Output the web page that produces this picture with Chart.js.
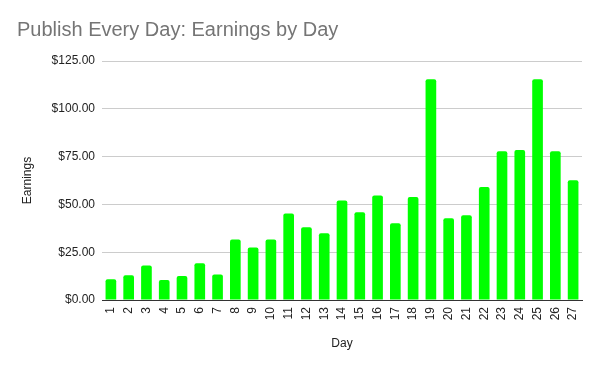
<!DOCTYPE html>
<html>
<head>
<meta charset="utf-8">
<script src="https://cdn.jsdelivr.net/npm/chart.js@4/dist/chart.umd.min.js"></script>
<style>
html,body{margin:0;padding:0;background:#fff;}
#wrap{width:600px;height:371px;position:relative;}
</style>
</head>
<body>
<div id="wrap"><canvas id="c" width="600" height="371"></canvas></div>
<script>
const chartTitle = "Publish Every Day: Earnings by Day";
const xAxisTitle = "Day";
const yAxisTitle = "Earnings";
const days = ["1","2","3","4","5","6","7","8","9","10","11","12","13","14","15","16","17","18","19","20","21","22","23","24","25","26","27"];
const earnings = [10.8,12.9,18.1,10.5,12.6,19.2,13.4,31.7,27.5,31.7,45.3,38.0,34.9,52.1,45.9,54.7,40.1,53.9,115.4,42.7,44.3,59.1,77.8,78.5,115.4,77.8,62.6];
const yTicks = [0,25,50,75,100,125];

const FONT = "'Liberation Sans', Arial, sans-serif";

new Chart(document.getElementById('c'), {
  type: 'bar',
  data: {
    labels: days,
    datasets: [{
      data: earnings,
      backgroundColor: '#00ff00',
      borderWidth: 0,
      borderRadius: {topLeft: 2, topRight: 2, bottomLeft: 0, bottomRight: 0},
      borderSkipped: 'bottom',
      categoryPercentage: 1.0,
      barPercentage: 0.6
    }]
  },
  options: {
    responsive: false,
    animation: false,
    devicePixelRatio: 1,
    layout: {padding: {left: 17, right: 18, top: 0, bottom: 20}},
    plugins: {
      legend: {display: false},
      tooltip: {enabled: false},
      title: {
        display: true,
        text: chartTitle,
        align: 'start',
        color: '#757575',
        font: {family: FONT, size: 20, weight: 'normal'},
        padding: {top: 18, bottom: 19}
      }
    },
    scales: {
      x: {
        grid: {display: false, drawTicks: false},
        border: {display: true, color: '#333333', width: 1},
        ticks: {
          color: '#222222',
          font: {family: FONT, size: 12},
          padding: 7,
          maxRotation: 90,
          minRotation: 90,
          autoSkip: false
        },
        title: {
          display: true,
          text: xAxisTitle,
          color: '#222222',
          font: {family: FONT, size: 12},
          padding: {top: 0, bottom: 0}
        },
        afterFit: (s) => { s.height = 51; }
      },
      y: {
        min: 0,
        max: 125,
        afterBuildTicks: (s) => { s.ticks = yTicks.map(v => ({value: v})); },
        grid: {color: '#cccccc', drawTicks: false, lineWidth: 1},
        border: {display: false},
        ticks: {
          color: '#222222',
          font: {family: FONT, size: 12},
          padding: 7,
          callback: (v) => '$' + Number(v).toFixed(2)
        },
        title: {
          display: true,
          text: yAxisTitle,
          color: '#222222',
          font: {family: FONT, size: 12},
          padding: {top: 3, bottom: 0}
        },
        afterFit: (s) => { s.width = 85; }
      }
    }
  }
});
</script>
</body>
</html>
